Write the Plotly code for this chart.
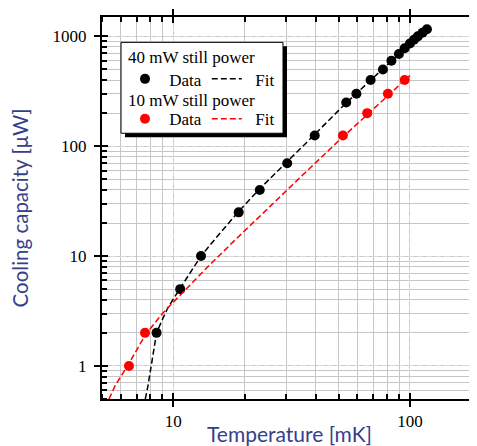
import math
import plotly.graph_objects as go

# ---- data ----
black_T = [8.5, 10.7, 13.1, 18.9, 23.2, 30.3, 39.6, 53.8, 59.4, 68.2, 76.9, 83.5,
           89.8, 95.0, 100.0, 104.0, 108.0, 113.0, 118.0]
black_Q = [2, 5, 10, 25, 40, 70, 125, 250, 300, 400, 500, 600,
           690, 780, 860, 930, 1000, 1080, 1160]

black_fit_T = [7.62, 7.7, 7.8, 8.1, 8.5, 9.0, 9.5, 10.7, 12.0, 13.1, 15.5, 18.9, 23.2,
               30.3, 39.6, 54.0, 68.0, 83.0, 97.0, 118.0]
black_fit_Q = [0.5, 0.56, 0.64, 1.05, 2.0, 2.65, 3.4, 5.1, 7.5, 10, 15.5, 25.5, 41,
               72, 128, 250, 400, 590, 790, 1160]

red_T = [6.5, 7.6, 52.1, 66.0, 80.7, 95.0]
red_Q = [1, 2, 125, 200, 300, 400]

red_fit_T = [5.35, 5.7, 6.5, 7.6, 9.0, 11.0, 14.0, 18.0, 25.0, 35.0, 50.0, 70.0, 100.0]
red_fit_Q = [0.5, 0.67, 1.05, 1.9, 3.0, 4.7, 8.0, 13.6, 27, 54, 112, 218, 440]

x_range = [5, 192]
y_range = [0.5, 1500]

series_titles = ["40 mW still power", "10 mW still power"]
data_label = "\u00a0Data"
fit_label = "\u00a0\u00a0Fit"
x_title = "Temperature [mK]"
y_title = "Cooling capacity [μW]"

# ---- layout helpers ----
# the page body adds an 8px offset; positions below are given in screen pixels
OFF = 8
W, H = 477 - OFF, 446 - OFF
ML, MT = 102 - OFF, 16.6 - OFF
MB = H - (399.1 - OFF)
MR = 0
PW, PH = W - ML - MR, H - MT - MB


def px_x(p):
    return (p - OFF - ML) / PW


def px_y(p):
    return (H - MB - (p - OFF)) / PH


serif = "Liberation Serif"
title_color = "#363f8c"
legend_font = dict(family=serif, size=17, color="black")

fig = go.Figure()

fig.add_trace(go.Scatter(x=black_fit_T, y=black_fit_Q, mode="lines", name=fit_label,
                         line=dict(color="black", width=1.5, dash="6px,3px"),
                         legend="legend", legendrank=2))
fig.add_trace(go.Scatter(x=black_T, y=black_Q, mode="markers", name=data_label,
                         marker=dict(color="black", size=10),
                         legend="legend", legendrank=1))
fig.add_trace(go.Scatter(x=red_fit_T, y=red_fit_Q, mode="lines", name=fit_label,
                         line=dict(color="red", width=1.5, dash="6px,3px"),
                         legend="legend2", legendrank=2))
fig.add_trace(go.Scatter(x=red_T, y=red_Q, mode="markers", name=data_label,
                         marker=dict(color="red", size=10),
                         legend="legend2", legendrank=1))
# helper trace for the overlaid (inside-tick) axes
fig.add_trace(go.Scatter(x=[x_range[0]], y=[y_range[0]], mode="markers",
                         marker=dict(opacity=0), xaxis="x2", yaxis="y2",
                         showlegend=False, hoverinfo="skip"))

lx0 = [math.log10(v) for v in x_range]
ly0 = [math.log10(v) for v in y_range]

axis_common = dict(type="log", dtick=1, exponentformat="none", showline=True,
                   linecolor="black", linewidth=2, ticks="outside", ticklen=6,
                   tickwidth=1.5, tickcolor="black", automargin=False,
                   tickfont=dict(family=serif, size=17, color="black"),
                   showgrid=True, gridcolor="#dadada", griddash="6px,3px", gridwidth=1,
                   zeroline=False,
                   minor=dict(ticks="inside", ticklen=5, tickwidth=1.5, tickcolor="black",
                              dtick="D1", showgrid=True, gridcolor="#c6c6c6", gridwidth=1,
                              griddash="solid"))

overlay_common = dict(type="log", dtick=1, ticks="inside", ticklen=6, tickwidth=1.5,
                      tickcolor="black", showticklabels=False, showgrid=False,
                      showline=False, zeroline=False, automargin=False)

fig.update_layout(
    width=W, height=H, autosize=False,
    margin=dict(l=ML, r=MR, t=MT, b=MB, pad=0),
    paper_bgcolor="white", plot_bgcolor="white",
    xaxis=dict(axis_common, range=lx0, mirror="allticks",
               title=dict(text=x_title, font=dict(family="Lato", size=21, color=title_color),
                          standoff=4)),
    yaxis=dict(axis_common, range=ly0, mirror=False, ticklabelstandoff=4,
               title=dict(text=y_title, font=dict(family="Lato", size=20.5, color=title_color),
                          standoff=18)),
    xaxis2=dict(overlay_common, range=lx0, overlaying="x", anchor="y2", mirror="ticks"),
    yaxis2=dict(overlay_common, range=ly0, overlaying="y", anchor="x2", side="left"),
    showlegend=True,
    legend=dict(orientation="h", x=px_x(125), y=px_y(79), xanchor="left", yanchor="middle",
                bgcolor="rgba(0,0,0,0)", borderwidth=0, itemwidth=30,
                font=legend_font, traceorder="normal"),
    legend2=dict(orientation="h", x=px_x(125), y=px_y(119), xanchor="left", yanchor="middle",
                 bgcolor="rgba(0,0,0,0)", borderwidth=0, itemwidth=30,
                 font=legend_font, traceorder="normal"),
    annotations=[
        dict(text=series_titles[0], xref="paper", yref="paper", x=px_x(126), y=px_y(57.5),
             xanchor="left", yanchor="middle", showarrow=False, font=legend_font),
        dict(text=series_titles[1], xref="paper", yref="paper", x=px_x(126), y=px_y(100),
             xanchor="left", yanchor="middle", showarrow=False, font=legend_font),
    ],
    shapes=[
        dict(type="rect", xref="paper", yref="paper", layer="above",
             x0=px_x(125), x1=px_x(287), y0=px_y(137), y1=px_y(46),
             fillcolor="black", line=dict(width=0)),
        dict(type="rect", xref="paper", yref="paper", layer="above",
             x0=px_x(121), x1=px_x(283), y0=px_y(133), y1=px_y(42),
             fillcolor="white", line=dict(color="black", width=1)),
    ],
)

fig.write_html("out.html")
